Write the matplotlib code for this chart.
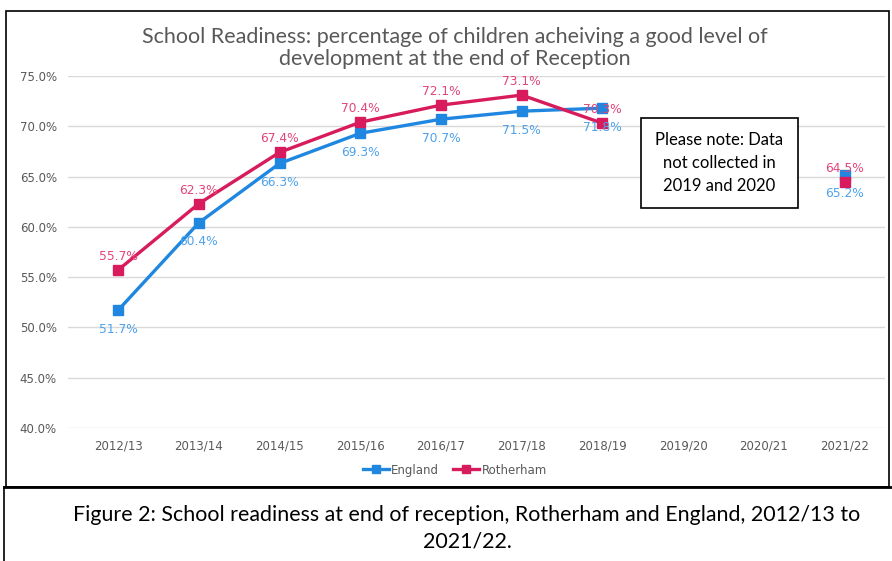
import numpy as np
import matplotlib.pyplot as plt
from matplotlib.lines import Line2D
from matplotlib.patches import Rectangle

years = ["2012/13", "2013/14", "2014/15", "2015/16", "2016/17",
         "2017/18", "2018/19", "2019/20", "2020/21", "2021/22"]
england = [51.7, 60.4, 66.3, 69.3, 70.7, 71.5, 71.8, np.nan, np.nan, 65.2]
rotherham = [55.7, 62.3, 67.4, 70.4, 72.1, 73.1, 70.3, np.nan, np.nan, 64.5]

ENG_COL = "#1f87e0"
ENG_TXT = "#4da2ea"
ROT_COL = "#d81b5c"
ROT_TXT = "#e2457a"
GREY = "#595959"

fig = plt.figure(figsize=(8.92, 5.61), dpi=100)
ax = fig.add_axes([0.0762, 0.2371, 0.916, 0.6275])

x = np.arange(len(years))
ax.plot(x, england, color=ENG_COL, lw=2.4, marker="s", ms=6.5, zorder=3)
ax.plot(x, rotherham, color=ROT_COL, lw=2.4, marker="s", ms=6.5, zorder=4)

# value labels: England below the point, Rotherham above
for i, v in enumerate(england):
    if not np.isnan(v):
        ax.annotate(f"{v:.1f}%", (i, v), xytext=(0, -9), textcoords="offset points",
                    ha="center", va="top", fontsize=8.8, color=ENG_TXT, zorder=5)
for i, v in enumerate(rotherham):
    if not np.isnan(v):
        ax.annotate(f"{v:.1f}%", (i, v), xytext=(0, 5), textcoords="offset points",
                    ha="center", va="bottom", fontsize=8.8, color=ROT_TXT, zorder=5)

ax.set_xlim(-0.62, 9.5)
ax.set_ylim(40, 75)
ax.set_yticks(np.arange(40, 76, 5))
ax.set_yticklabels([f"{t:.1f}%" for t in np.arange(40, 76, 5)])
ax.set_xticks(x)
ax.set_xticklabels(years)
ax.tick_params(length=0, labelsize=8.5, labelcolor=GREY, pad=8)
ax.grid(axis="y", color="#d9d9d9", lw=1)
ax.set_axisbelow(True)
for s in ax.spines.values():
    s.set_visible(False)

fig.text(0.51, 0.914, "School Readiness: percentage of children acheiving a good level of\n"
         "development at the end of Reception", ha="center", va="center",
         fontsize=15.5, color=GREY, family="Lato", linespacing=1.15)

ax.text(7.45, 66.35, "Please note: Data\nnot collected in\n2019 and 2020", ha="center",
        va="center", fontsize=12, family="Lato", linespacing=1.55,
        bbox=dict(boxstyle="square,pad=0.85", fc="white", ec="black", lw=1.2), zorder=6)

handles = [Line2D([], [], color=ENG_COL, lw=2.4, marker="s", ms=6),
           Line2D([], [], color=ROT_COL, lw=2.4, marker="s", ms=6)]
fig.legend(handles, ["England", "Rotherham"], loc="center", bbox_to_anchor=(0.51, 0.162),
           ncol=2, frameon=False, fontsize=8.5, handlelength=2.2, handletextpad=0.2,
           columnspacing=1.2, labelcolor=GREY)

# chart frame and caption box
fig.patches.append(Rectangle((0.007, 0.132), 0.99, 0.848, transform=fig.transFigure,
                             fill=False, ec="black", lw=1.2))
fig.add_artist(Line2D([0.004, 1.0], [0.132, 0.132], transform=fig.transFigure,
                      color="black", lw=2))
fig.add_artist(Line2D([0.005, 0.005], [0.0, 0.132], transform=fig.transFigure,
                      color="black", lw=1.2))

fig.text(0.5235, 0.058, "Figure 2: School readiness at end of reception, Rotherham and England, 2012/13 to\n2021/22.",
         ha="center", va="center", fontsize=15.4, family="Lato", linespacing=1.4)

fig.savefig("out.png", dpi=100)
